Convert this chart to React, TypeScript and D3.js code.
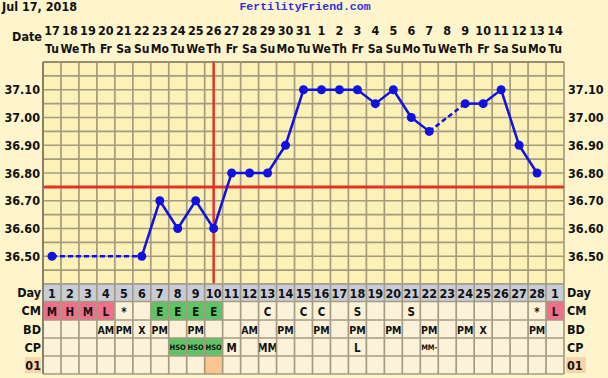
import React from "react";
import * as d3 from "d3";

const dates = ["17","18","19","20","21","22","23","24","25","26","27","28","29","30","31","1","2","3","4","5","6","7","8","9","10","11","12","13","14"];
const weekdays = ["Tu","We","Th","Fr","Sa","Su","Mo","Tu","We","Th","Fr","Sa","Su","Mo","Tu","We","Th","Fr","Sa","Su","Mo","Tu","We","Th","Fr","Sa","Su","Mo","Tu"];
const cycleDays = ["1","2","3","4","5","6","7","8","9","10","11","12","13","14","15","16","17","18","19","20","21","22","23","24","25","26","27","28","1"];
const temps: (number | null)[] = [36.5,null,null,null,null,36.5,36.7,36.6,36.7,36.6,36.8,36.8,36.8,36.9,37.1,37.1,37.1,37.1,37.05,37.1,37.0,36.95,null,37.05,37.05,37.1,36.9,36.8,null];
const cm = ["M","H","M","L","*","","E","E","E","E","","","C","","C","C","","S","","","S","","","","","","","*","L"];
const bd = ["","","","AM","PM","X","PM","","PM","","","AM","","PM","","PM","","PM","","PM","","PM","","PM","X","","","PM",""];
const cp = ["","","","","","","","HSO","HSO","HSO","M","","MM","","","","","L","","","","MM-","","","","","","",""];
const opk = ["","","","","","","","","","x","","","","","","","","","","","","","","","","","","",""];
const yTicks = [36.5,36.6,36.7,36.8,36.9,37.0,37.1];
const coverline = 36.75;
const ovulationIndex = 9;

const W = 608, H = 378;
const L = 43, R = 564, T = 62, B = 284;
const rows = [284, 301.5, 320, 338, 356, 374];
const FONT = "'DejaVu Sans Condensed', 'DejaVu Sans', sans-serif";
const GRID = "#a59b80";
const BLUE = "#0f12e0";
const RED = "#e8302a";

export default function App() {
  const idx = d3.range(dates.length);
  const x = d3.scaleBand<number>().domain(idx).range([L, R]);
  const bw = x.bandwidth();
  const cx = (i: number) => (x(i) as number) + bw / 2;
  const y = d3.scaleLinear().domain([36.4, 37.2]).range([B, T]);
  const hLines = d3.range(36.4, 37.2001, 0.05);

  const pts = idx.filter(i => temps[i] != null).map(i => ({ i, t: temps[i] as number }));
  const segs: { a: typeof pts[0]; b: typeof pts[0]; dashed: boolean }[] = [];
  for (let k = 1; k < pts.length; k++) {
    segs.push({ a: pts[k - 1], b: pts[k], dashed: pts[k].i - pts[k - 1].i > 1 });
  }
  const line = d3.line<{ i: number; t: number }>().x(d => cx(d.i)).y(d => y(d.t));

  const cmColor = (v: string) => (v === "M" || v === "H" || v === "L" ? "#f0708c" : v === "E" ? "#5ec466" : "#fbf2d9");
  const tableRows = [
    { label: "CM", vals: cm, fill: (v: string) => cmColor(v), size: 11.5 },
    { label: "BD", vals: bd, fill: () => "#fbf2d9", size: 10.5 },
    { label: "CP", vals: cp, fill: (v: string) => (v === "HSO" ? "#5ec466" : "#fbf2d9"), size: 11.5 },
    { label: "01", vals: opk, fill: (v: string) => (v ? "#fbc590" : "#fbf2d9"), size: 11.5 },
  ];

  return (
    <svg width={W} height={H} style={{ position: "absolute", left: 0, top: 0 }} fontFamily={FONT}>
      <rect width={W} height={H} fill="#fef5cc" />
      <text x={2} y={11} fontSize={12.5} fontWeight="bold" fill="#111">Jul 17, 2018</text>
      <text x={305} y={10} textAnchor="middle" fontSize={11.5} fontWeight="bold" fill="#2a30e0" fontFamily="'Liberation Mono', monospace">FertilityFriend.com</text>
      <text x={42} y={41} textAnchor="end" fontSize={12.5} fontWeight="bold" fill="#111">Date</text>
      {idx.map(i => (
        <g key={"d" + i}>
          <text x={cx(i)} y={35} textAnchor="middle" fontSize={12.5} fontWeight="bold" fill="#111">{dates[i]}</text>
          <text x={cx(i)} y={53} textAnchor="middle" fontSize={12} fontWeight="bold" fill="#111">{weekdays[i]}</text>
        </g>
      ))}
      <rect x={L} y={T} width={R - L} height={B - T} fill="#fcf1b6" />
      {hLines.map((v, k) => (
        <line key={"h" + k} x1={L} x2={R} y1={y(v)} y2={y(v)} stroke={GRID} strokeWidth={1.7} />
      ))}
      {d3.range(dates.length + 1).map(k => {
        const xx = k < dates.length ? (x(k) as number) : R;
        return <line key={"v" + k} x1={xx} x2={xx} y1={T} y2={B} stroke={GRID} strokeWidth={1.7} />;
      })}
      {yTicks.map(v => (
        <g key={"y" + v}>
          <text x={40} y={y(v) + 4.5} textAnchor="end" fontSize={12.5} fontWeight="bold" fill="#111">{v.toFixed(2)}</text>
          <text x={568} y={y(v) + 4.5} fontSize={12.5} fontWeight="bold" fill="#111">{v.toFixed(2)}</text>
        </g>
      ))}
      <line x1={L} x2={R} y1={y(coverline)} y2={y(coverline)} stroke={RED} strokeWidth={3} />
      <line x1={cx(ovulationIndex)} x2={cx(ovulationIndex)} y1={T - 1} y2={rows[0]} stroke={RED} strokeWidth={2.5} />
      {segs.map((s, k) => (
        <path key={"s" + k} d={line([s.a, s.b]) || ""} stroke={BLUE} strokeWidth={2.5} fill="none"
          strokeDasharray={s.dashed ? "5,3" : undefined} />
      ))}
      {pts.map(p => (
        <circle key={"p" + p.i} cx={cx(p.i)} cy={y(p.t)} r={4.5} fill={BLUE} />
      ))}
      {idx.map(i => (
        <g key={"c" + i}>
          <rect x={x(i)} y={rows[0]} width={bw} height={rows[1] - rows[0]} fill="#c8ccd7" />
          <text x={cx(i)} y={rows[1] - 4} textAnchor="middle" fontSize={12.5} fontWeight="bold" fill="#111">{cycleDays[i]}</text>
        </g>
      ))}
      {tableRows.map((r, ri) => (
        <g key={"r" + ri}>
          {idx.map(i => {
            const v = r.vals[i];
            const small = v === "HSO" || v === "MM-";
            return (
              <g key={i}>
                <rect x={x(i)} y={rows[ri + 1]} width={bw} height={rows[ri + 2] - rows[ri + 1]} fill={r.fill(v)} />
                {v && v !== "x" && (
                  <text x={cx(i)} y={rows[ri + 2] - (small ? 6 : 4.5)} textAnchor="middle" fontSize={small ? 7.5 : r.size}
                    fontWeight="bold" fill="#111">{v}</text>
                )}
              </g>
            );
          })}
        </g>
      ))}
      {rows.map((ry, k) => (
        <line key={"tr" + k} x1={L} x2={R} y1={ry} y2={ry} stroke={GRID} strokeWidth={1.7} />
      ))}
      {d3.range(dates.length + 1).map(k => {
        const xx = k < dates.length ? (x(k) as number) : R;
        return <line key={"tv" + k} x1={xx} x2={xx} y1={rows[0]} y2={rows[5]} stroke={GRID} strokeWidth={1.7} />;
      })}
      <line x1={L} x2={L} y1={T} y2={rows[5]} stroke="#8a8068" strokeWidth={2} />
      <line x1={L} x2={R} y1={T} y2={T} stroke="#8a8068" strokeWidth={1.5} />
      {["Day", "CM", "BD", "CP", "01"].map((lab, k) => {
        const yy = (rows[k] + rows[k + 1]) / 2 + 4.5;
        return (
          <g key={"lab" + k}>
            {lab === "01" && <rect x={25} y={rows[k] + 1} width={16} height={rows[k + 1] - rows[k] - 2} fill="#fbd3a8" />}
            {lab === "01" && <rect x={566} y={rows[k] + 1} width={20} height={rows[k + 1] - rows[k] - 2} fill="#fbd3a8" />}
            <text x={41} y={yy} textAnchor="end" fontSize={12.5} fontWeight="bold" fill="#111">{lab}</text>
            <text x={567} y={yy} fontSize={12.5} fontWeight="bold" fill="#111">{lab}</text>
          </g>
        );
      })}
    </svg>
  );
}
